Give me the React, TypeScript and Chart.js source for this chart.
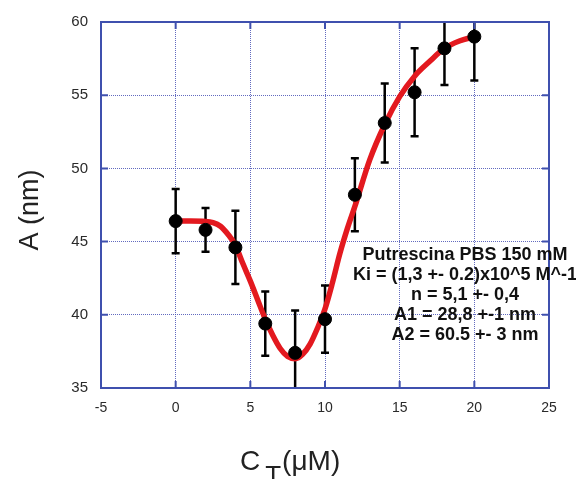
import React, { useEffect, useRef } from 'react';
import { Chart, registerables } from 'chart.js';

Chart.register(...registerables);

// Measured data points (concentration in µM, A in nm) with error bars
const xVals = [0, 2, 4, 6, 8, 10, 12, 14, 16, 18, 20];
const yVals = [46.4, 45.8, 44.6, 39.4, 37.4, 39.7, 48.2, 53.1, 55.2, 58.2, 59.0];
const yErr = [2.2, 1.5, 2.5, 2.2, 2.9, 2.3, 2.5, 2.7, 3.0, 2.5, 3.0];

// Fitted curve
const curveX = [0, 1, 2, 2.5, 3, 3.5, 4, 4.5, 5, 5.5, 6, 6.5, 7, 7.5, 8, 8.5, 9, 9.5, 10, 10.5, 11, 11.5, 12, 13, 14, 15, 16, 17, 18, 19, 20];
const curveY = [46.4, 46.4, 46.38, 46.3, 46.05, 45.5, 44.75, 43.5, 42.3, 41.0, 39.7, 38.6, 37.7, 37.15, 37.0, 37.3, 38.0, 39.1, 40.4, 42.2, 44.2, 45.9, 47.4, 50.6, 53.0, 54.9, 56.3, 57.3, 58.2, 58.7, 59.0];

// Axis settings
const xTicksMin = -5;
const xTicksMax = 25;
const yTicksMin = 35;
const yTicksMax = 60;
const tickStep = 5;

const annotationLines = [
  'Putrescina PBS 150 mM',
  'Ki = (1,3 +- 0.2)x10^5 M^-1',
  'n = 5,1 +- 0,4',
  'A1 = 28,8 +-1 nm',
  'A2 = 60.5 +- 3 nm',
];
const yTitle = 'A (nm)';
const xTitleMain = 'C';
const xTitleSub = 'T';
const xTitleUnit = '(μM)';

const FRAME = '#3f50ae';
const GRID = 'rgba(70,80,180,0.85)';
const FONT = '"Liberation Sans", Arial, sans-serif';

export default function App() {
  const ref = useRef<HTMLCanvasElement>(null);

  useEffect(() => {
    if (!ref.current) return;

    const custom = {
      id: 'custom',
      beforeDatasetsDraw(chart: any) {
        const { ctx, chartArea, scales } = chart;
        const xs = scales.x;
        const ys = scales.y;
        ctx.save();
        ctx.beginPath();
        ctx.rect(chartArea.left, chartArea.top, chartArea.right - chartArea.left, chartArea.bottom - chartArea.top);
        ctx.clip();
        ctx.strokeStyle = '#000';
        ctx.lineWidth = 2.5;
        for (let i = 0; i < xVals.length; i++) {
          const px = xs.getPixelForValue(xVals[i]);
          const top = ys.getPixelForValue(yVals[i] + yErr[i]);
          const bot = ys.getPixelForValue(yVals[i] - yErr[i]);
          ctx.beginPath();
          ctx.moveTo(px, top);
          ctx.lineTo(px, bot);
          ctx.moveTo(px - 4, top);
          ctx.lineTo(px + 4, top);
          ctx.moveTo(px - 4, bot);
          ctx.lineTo(px + 4, bot);
          ctx.stroke();
        }
        ctx.restore();
      },
      afterDraw(chart: any) {
        const { ctx, chartArea, scales } = chart;
        const { left, right, top, bottom } = chartArea;
        const xs = scales.x;
        const ys = scales.y;
        ctx.save();
        // frame
        ctx.strokeStyle = FRAME;
        ctx.lineWidth = 2;
        ctx.strokeRect(left, top, right - left, bottom - top);
        // inner tick marks
        const tl = 7;
        ctx.beginPath();
        for (let v = xTicksMin + tickStep; v < xTicksMax; v += tickStep) {
          const px = xs.getPixelForValue(v);
          ctx.moveTo(px, top);
          ctx.lineTo(px, top + tl);
          ctx.moveTo(px, bottom);
          ctx.lineTo(px, bottom - tl);
        }
        for (let v = yTicksMin + tickStep; v < yTicksMax; v += tickStep) {
          const py = ys.getPixelForValue(v);
          ctx.moveTo(left, py);
          ctx.lineTo(left + tl, py);
          ctx.moveTo(right, py);
          ctx.lineTo(right - tl, py);
        }
        ctx.stroke();

        // annotation
        ctx.fillStyle = '#111';
        ctx.font = `bold 18px ${FONT}`;
        ctx.textAlign = 'center';
        ctx.textBaseline = 'alphabetic';
        annotationLines.forEach((line, i) => {
          ctx.fillText(line, 465, 260 + i * 20);
        });

        // y title
        ctx.save();
        ctx.translate(38, 210);
        ctx.rotate(-Math.PI / 2);
        ctx.font = `27px ${FONT}`;
        ctx.fillStyle = '#222';
        ctx.textAlign = 'center';
        ctx.textBaseline = 'alphabetic';
        ctx.fillText(yTitle, 0, 0);
        ctx.restore();

        // x title with subscript
        ctx.fillStyle = '#222';
        ctx.textAlign = 'left';
        ctx.textBaseline = 'alphabetic';
        ctx.font = `28px ${FONT}`;
        ctx.fillText(xTitleMain, 240, 470);
        const wC = ctx.measureText(xTitleMain).width;
        ctx.font = `26px ${FONT}`;
        ctx.fillText(xTitleSub, 240 + wC + 5, 484);
        const wT = ctx.measureText(xTitleSub).width;
        ctx.font = `28px ${FONT}`;
        ctx.fillText(xTitleUnit, 240 + wC + 5 + wT + 1, 470);
        ctx.restore();
      },
    };

    const chart = new Chart(ref.current, {
      type: 'scatter',
      data: {
        datasets: [
          {
            label: 'data',
            data: xVals.map((x, i) => ({ x, y: yVals[i] })),
            backgroundColor: '#000',
            borderColor: '#000',
            pointRadius: 6.5,
            pointHoverRadius: 6.5,
            showLine: false,
          },
          {
            label: 'fit',
            data: curveX.map((x, i) => ({ x, y: curveY[i] })),
            showLine: true,
            borderColor: '#e3191f',
            borderWidth: 5.5,
            pointRadius: 0,
            cubicInterpolationMode: 'monotone',
            fill: false,
          },
        ],
      },
      options: {
        animation: false,
        responsive: true,
        maintainAspectRatio: false,
        layout: { padding: { top: 17, right: 27, left: 0, bottom: 0 } },
        plugins: { legend: { display: false }, tooltip: { enabled: false } },
        scales: {
          x: {
            type: 'linear',
            min: xTicksMin,
            max: xTicksMax,
            ticks: { stepSize: tickStep, color: '#2a2a2a', font: { size: 14, family: FONT }, padding: 12, maxRotation: 0 },
            grid: { color: GRID, lineWidth: 1, drawTicks: false },
            border: { display: false, dash: [1, 1] },
            afterFit: (s: any) => { s.height = 91; },
          },
          y: {
            type: 'linear',
            min: yTicksMin,
            max: yTicksMax,
            ticks: { stepSize: tickStep, color: '#2a2a2a', font: { size: 15, family: FONT }, padding: 13 },
            grid: { color: GRID, lineWidth: 1, drawTicks: false },
            border: { display: false, dash: [1, 1] },
            afterFit: (s: any) => { s.width = 101; },
          },
        },
      },
      plugins: [custom],
    });
    return () => chart.destroy();
  }, []);

  return (
    <div style={{ position: 'fixed', left: 0, top: 0, width: 576, height: 479, background: '#fff' }}>
      <canvas ref={ref} />
    </div>
  );
}
